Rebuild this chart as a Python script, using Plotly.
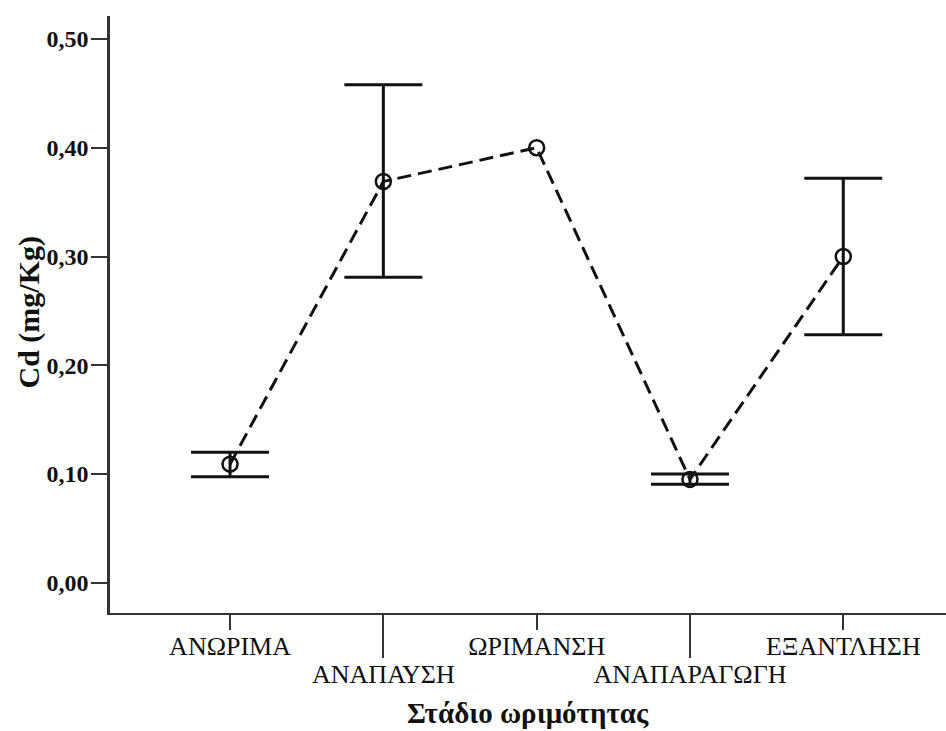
import plotly.graph_objects as go

# Maturity stages and mean Cd concentration with asymmetric error limits
# (no interval is drawn where a limit is None)
stages = ["ΑΝΩΡΙΜΑ", "ΑΝΑΠΑΥΣΗ", "ΩΡΙΜΑΝΣΗ", "ΑΝΑΠΑΡΑΓΩΓΗ", "ΕΞΑΝΤΛΗΣΗ"]
cd_mean = [0.109, 0.369, 0.400, 0.095, 0.300]
cd_upper = [0.120, 0.458, None, 0.100, 0.372]
cd_lower = [0.0975, 0.281, None, 0.0905, 0.228]

y_ticks = [0.0, 0.1, 0.2, 0.3, 0.4, 0.5]
y_tick_text = ["0,00", "0,10", "0,20", "0,30", "0,40", "0,50"]

pos = list(range(len(stages)))
has_err = [i for i in pos if cd_upper[i] is not None and cd_lower[i] is not None]
err_x = [pos[i] for i in has_err]
err_y = [cd_mean[i] for i in has_err]
err_plus = [cd_upper[i] - cd_mean[i] for i in has_err]
err_minus = [cd_mean[i] - cd_lower[i] for i in has_err]

SERIF = "Liberation Serif, Times New Roman, serif"
INK = "#111111"
AXIS = "#333333"

fig = go.Figure()

# error intervals (only where limits exist)
fig.add_trace(go.Scatter(
    x=err_x, y=err_y, mode="markers",
    marker=dict(size=0.1, opacity=0, color=INK),
    error_y=dict(type="data", symmetric=False, array=err_plus, arrayminus=err_minus,
                 color=INK, thickness=3, width=39),
    showlegend=False, hoverinfo="skip",
))

# dashed mean line with open circles
fig.add_trace(go.Scatter(
    x=pos, y=cd_mean,
    mode="lines+markers",
    line=dict(color=INK, width=3, dash="14px,7px"),
    marker=dict(symbol="circle-open", size=15, color=INK, line=dict(width=2.5, color=INK)),
    showlegend=False, hoverinfo="skip",
))

x_range = [-0.783, 4.67]
cat_font = dict(family=SERIF, size=26, color=INK)

fig.update_layout(
    width=946, height=731,
    margin=dict(l=110, r=0, t=16, b=118),
    paper_bgcolor="white", plot_bgcolor="white",
    font=dict(family=SERIF, color=INK),
    xaxis=dict(
        range=x_range, showgrid=False, zeroline=False,
        showline=True, linecolor=AXIS, linewidth=2,
        tickmode="array", tickvals=pos[0::2], ticktext=stages[0::2],
        ticks="outside", ticklen=15, tickwidth=2, tickcolor=AXIS,
        tickfont=cat_font, ticklabelstandoff=-6,
    ),
    xaxis2=dict(
        range=x_range, overlaying="x", side="bottom", anchor="y",
        showgrid=False, zeroline=False, showline=False,
        tickmode="array", tickvals=pos[1::2], ticktext=stages[1::2],
        ticks="outside", ticklen=44, tickwidth=2, tickcolor=AXIS,
        tickfont=cat_font, ticklabelstandoff=-6,
    ),
    yaxis=dict(
        range=[-0.0279, 0.5212], showgrid=False, zeroline=False,
        showline=True, linecolor=AXIS, linewidth=2.5,
        tickmode="array", tickvals=y_ticks, ticktext=y_tick_text,
        ticks="outside", ticklen=16, tickwidth=2, tickcolor=AXIS,
        tickfont=dict(family=SERIF, size=24, color=INK, weight="bold"),
        ticklabelstandoff=-2,
    ),
    annotations=[
        dict(text="<b>Cd (mg/Kg)</b>", textangle=-90, xref="paper", yref="paper",
             x=0, y=0.5, xshift=-82, yshift=2, xanchor="center", yanchor="middle",
             showarrow=False, font=dict(family=SERIF, size=30, color=INK)),
        dict(text="<b>Στάδιο ωριμότητας</b>", xref="paper", yref="paper",
             x=0.5, y=0, yshift=-100, xanchor="center", yanchor="middle",
             showarrow=False, font=dict(family=SERIF, size=29, color=INK)),
    ],
)

# invisible anchor trace so the second x axis is rendered
fig.add_trace(go.Scatter(x=[None], y=[None], xaxis="x2", showlegend=False, hoverinfo="skip"))

fig.write_html("out.html")
